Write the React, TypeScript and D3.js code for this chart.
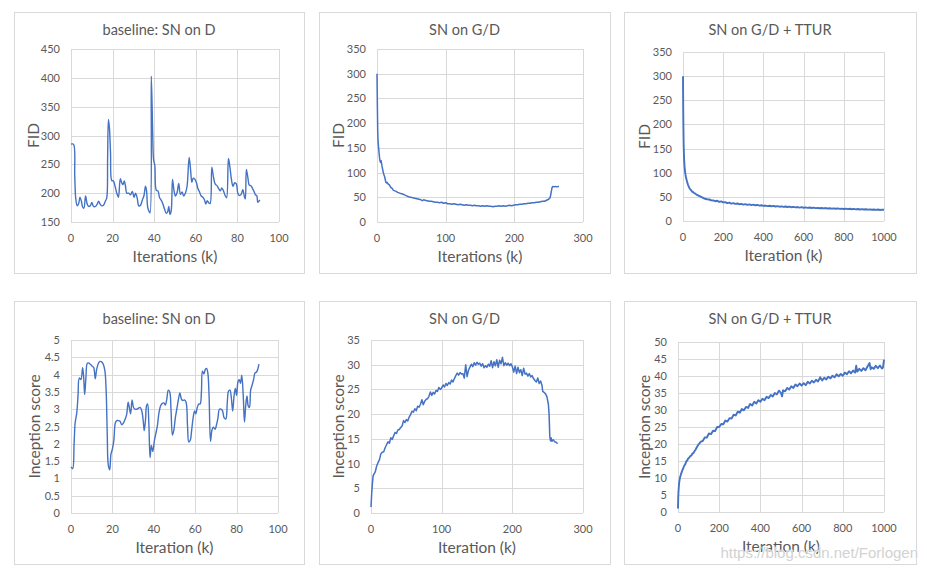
import React, { useRef, useEffect } from 'react';
import * as d3 from 'd3';

type Pt = [number, number];

// [iteration (k), value]
const baseFid: Pt[] = [
    [0, 285], [1.2, 285], [1.8, 230], [2.3, 190], [3, 178], [3.7, 182], [4.3, 193], [5, 186], [5.6, 176], [6.2, 174],
    [7, 195], [7.8, 181], [8.5, 177], [9.3, 178], [10, 184], [10.8, 177], [11.8, 177], [12.6, 181], [13.3, 186], [14, 181],
    [14.8, 178], [15.6, 179], [16.5, 186], [17.2, 192], [17.6, 260], [18, 328], [18.5, 312], [19, 270], [19.6, 222], [20.4, 221],
    [21.2, 212], [22, 200], [22.8, 193], [23.7, 225], [24.4, 218], [25, 215], [25.6, 221], [26.2, 212], [26.8, 200], [27.8, 200],
    [28.6, 197], [29.5, 203], [30.3, 193], [31, 200], [31.8, 192], [32.6, 178], [33.4, 179], [34.3, 188], [35.1, 196], [35.8, 212],
    [36.3, 205], [36.9, 175], [37.6, 168], [38, 166], [38.6, 403], [39.3, 300], [39.7, 258], [40.3, 248], [41, 205], [41.8, 204],
    [42.6, 192], [43.5, 187], [44.3, 180], [45, 172], [45.8, 165], [46.5, 168], [47, 177], [47.6, 163], [48.2, 170], [48.8, 224],
    [49.5, 205], [50.2, 195], [51, 201], [51.8, 217], [52.6, 198], [53.4, 202], [54.2, 195], [55, 200], [55.8, 212], [56.8, 262],
    [57.5, 240], [58.1, 219], [58.8, 226], [59.6, 224], [60.3, 218], [61, 208], [61.8, 202], [62.6, 195], [63.4, 193], [64.2, 188],
    [64.8, 181], [65.5, 187], [66.3, 183], [66.9, 182], [67.7, 245], [68.5, 228], [69.3, 216], [70.2, 213], [71, 208], [71.8, 204],
    [72.5, 209], [73.3, 204], [74.1, 196], [74.8, 192], [75.7, 260], [76.4, 245], [77.2, 222], [77.9, 212], [78.7, 218], [79.5, 216],
    [80.2, 200], [81, 196], [81.8, 198], [82.6, 206], [83.3, 195], [83.8, 190], [84.3, 241], [85, 228], [85.7, 214], [86.5, 213],
    [87.3, 208], [88, 203], [88.7, 197], [89.3, 196], [89.8, 184], [90.3, 186], [90.8, 188],
];

const gdFid: Pt[] = [
    [0, 300], [0.5, 240], [1, 185], [1.5, 165], [2, 155], [3, 140], [4, 126], [5, 121], [6, 124], [7, 115],
    [8, 108], [9, 101], [10, 96], [11, 92], [12, 86], [13, 80], [14, 79], [15, 80], [16, 77], [18, 75],
    [20, 70], [22, 68], [24, 64], [26, 63], [28, 62], [30, 60], [32, 59], [34, 58], [36, 57], [38, 56],
    [40, 55], [43, 53], [46, 51], [49, 50], [52, 49], [55, 48], [58, 47], [61, 46], [64, 45], [66, 43],
    [68, 45], [70, 44], [73, 43], [76, 42], [79, 42], [82, 41], [85, 40], [88, 40], [91, 39], [94, 40],
    [97, 38], [100, 39], [103, 37], [106, 37], [109, 36], [112, 37], [115, 36], [118, 35], [121, 36], [124, 35],
    [127, 34], [130, 35], [133, 34], [136, 34], [139, 33], [142, 34], [145, 33], [148, 33], [151, 32], [154, 33],
    [157, 32], [160, 33], [163, 32], [166, 32], [169, 31], [172, 32], [175, 32], [178, 33], [181, 32], [184, 33],
    [187, 32], [190, 33], [193, 34], [196, 33], [199, 34], [202, 35], [205, 35], [208, 36], [211, 36], [214, 37],
    [217, 37], [220, 38], [223, 38], [226, 39], [229, 39], [232, 40], [235, 40], [238, 41], [241, 42], [244, 42],
    [247, 44], [250, 46], [252, 49], [253, 55], [254, 63], [255, 70], [256, 72], [258, 71], [260, 72], [262, 71],
    [264, 72], [265, 72],
];

const tturFid: Pt[] = [
    [0, 300], [1, 235], [2, 195], [3, 165], [4, 146], [5, 133], [6, 124], [8, 112], [10, 103], [12, 97],
    [15, 90], [18, 85], [21, 80], [25, 75], [30, 70], [35, 66], [40, 64], [45, 61], [50, 60], [55, 58],
    [60, 57], [70, 54], [80, 52], [90, 50], [100, 48], [110, 46], [120, 45], [130, 44.5], [140, 43], [150, 42.5],
    [160, 41], [170, 42], [180, 39.5], [190, 40.5], [200, 38.5], [210, 39], [220, 37], [230, 38], [240, 36], [250, 37],
    [260, 35.5], [270, 36.2], [280, 34.8], [290, 35.5], [300, 34], [310, 35], [320, 33.5], [330, 34.3], [340, 33], [350, 33.8],
    [360, 32.5], [370, 33.2], [380, 31.8], [390, 32.6], [400, 31.3], [410, 32], [420, 30.8], [430, 31.6], [440, 30.5], [450, 31.2],
    [460, 30], [470, 30.8], [480, 29.6], [490, 30.4], [500, 29.3], [510, 30], [520, 29], [530, 29.7], [540, 28.5], [550, 29.3],
    [560, 28.2], [570, 28.9], [580, 27.8], [590, 28.6], [600, 27.5], [610, 28.2], [620, 27.2], [630, 27.9], [640, 26.9], [650, 27.6],
    [660, 26.6], [670, 27.3], [680, 26.4], [690, 27], [700, 26.1], [710, 26.8], [720, 25.8], [730, 26.5], [740, 25.6], [750, 26.2],
    [760, 25.3], [770, 26], [780, 25.1], [790, 25.7], [800, 24.9], [810, 25.5], [820, 24.6], [830, 25.3], [840, 24.4], [850, 25],
    [860, 24.1], [870, 24.8], [880, 23.9], [890, 24.5], [900, 23.7], [910, 24.3], [920, 23.5], [930, 24.1], [940, 23.3], [950, 23.9],
    [960, 23.1], [970, 23.7], [980, 22.9], [990, 23.5], [1000, 23.2],
];

const baseIs: Pt[] = [
    [0, 1.33], [0.8, 1.28], [1.5, 2.0], [2, 2.6], [2.8, 2.9], [3.4, 3.4], [4, 3.9], [4.8, 3.86], [5.6, 4.2], [6.1, 3.95],
    [6.6, 3.42], [7.2, 3.9], [7.9, 4.33], [8.7, 4.33], [9.5, 4.29], [10.3, 4.24], [11, 4.2], [11.7, 3.88], [12.4, 4.15], [13.2, 4.32],
    [14, 4.38], [14.8, 4.37], [15.6, 4.3], [16.4, 4.1], [17, 3.5], [17.5, 2.3], [18, 1.4], [18.7, 1.25], [19.3, 1.7], [20, 1.85],
    [20.7, 2.1], [21.4, 2.6], [22.1, 2.67], [22.9, 2.67], [23.7, 2.65], [24.5, 2.55], [25.3, 2.6], [26.1, 2.7], [26.9, 2.85], [27.6, 3.2],
    [28.3, 3.0], [28.8, 2.87], [29.5, 3.27], [30.2, 3.05], [31, 3.0], [31.8, 3.0], [32.6, 3.03], [33.4, 3.05], [34.2, 2.95], [35, 2.6],
    [35.4, 2.38], [36, 2.7], [36.5, 3.1], [37, 3.15], [37.6, 2.6], [38.2, 1.6], [38.8, 1.95], [39.5, 1.78], [40.3, 2.1], [41, 2.3],
    [41.8, 2.55], [42.5, 2.9], [43.3, 3.1], [44.1, 3.17], [44.9, 3.18], [45.6, 3.12], [46.3, 3.3], [47, 3.55], [47.7, 3.5], [48.3, 3.0],
    [49, 2.25], [49.7, 2.4], [50.4, 2.75], [51.1, 3.0], [51.8, 3.25], [52.6, 3.47], [53.3, 3.3], [54, 3.25], [54.8, 3.27], [55.6, 3.2],
    [56.3, 2.5], [56.9, 2.05], [57.6, 2.1], [58.3, 2.4], [59, 2.75], [59.7, 2.95], [60.3, 2.87], [61, 3.05], [61.7, 3.15], [62.4, 3.15],
    [63, 3.5], [63.5, 4.1], [64.2, 4.02], [64.9, 4.15], [65.5, 4.18], [66.1, 4.05], [66.7, 3.4], [67.4, 2.07], [68.1, 2.4], [68.8, 2.48],
    [69.6, 2.42], [70.3, 2.55], [71, 2.75], [71.7, 3.0], [72.5, 3.0], [73.2, 2.95], [74, 2.75], [74.8, 2.72], [75.5, 3.2], [76.1, 3.52],
    [76.8, 3.55], [77.5, 3.3], [78.1, 2.95], [78.8, 3.4], [79.4, 3.6], [80, 3.4], [80.7, 3.8], [81.3, 3.85], [81.9, 3.75], [82.5, 3.98],
    [83.2, 3.4], [83.8, 2.63], [84.4, 3.1], [85, 3.38], [85.6, 3.1], [86.2, 3.05], [86.8, 3.55], [87.5, 3.7], [88.2, 3.85], [88.9, 4.05],
    [89.6, 4.07], [90.2, 4.15], [90.8, 4.3],
];

const gdIs: Pt[] = [
    [0, 1.2], [1, 4], [2, 6], [3, 7.5], [4, 7.8], [6, 8.3], [8, 9.5], [10, 10.2], [12, 10.8], [14, 12],
    [16, 12.3], [18, 12.4], [20, 13.2], [22, 13.8], [24, 14.4], [26, 14.1], [28, 15.2], [30, 14.9], [32, 15.6], [34, 16.3],
    [36, 16.1], [38, 16.8], [40, 16.9], [42, 17.3], [44, 17.6], [46, 18.7], [48, 18.3], [50, 18.9], [52, 18.6], [54, 19.4],
    [56, 19.9], [58, 20.6], [60, 20.4], [62, 21.1], [64, 20.7], [66, 21.6], [68, 21.4], [70, 22], [72, 22.9], [74, 21.9],
    [76, 22.6], [78, 23], [80, 23.1], [82, 23.6], [84, 24.5], [86, 23.8], [88, 24.4], [90, 24.1], [92, 24.8], [94, 24.6],
    [96, 25.4], [98, 25], [100, 25.3], [102, 25.9], [104, 25.5], [106, 26.2], [108, 25.8], [110, 26.4], [112, 26.1], [114, 26.9],
    [116, 26.5], [118, 27.2], [120, 27.8], [122, 28.3], [124, 27.9], [126, 28.4], [128, 28.1], [130, 28.2], [132, 27.3], [134, 30],
    [136, 27.6], [138, 28.9], [140, 29.5], [142, 30.1], [144, 29.6], [146, 30.4], [148, 29.9], [150, 30.5], [152, 30.1], [154, 30.3],
    [156, 29.7], [158, 30.2], [160, 29.4], [162, 29.8], [164, 29.5], [166, 30.1], [168, 29.7], [170, 30.8], [172, 29.4], [174, 30.6],
    [176, 29.8], [178, 31], [180, 29.5], [182, 30.9], [184, 30.2], [186, 31.5], [188, 29.8], [190, 30.4], [192, 29.9], [194, 30.3],
    [196, 29.8], [198, 30.2], [200, 29.6], [202, 28.5], [204, 29.7], [206, 28.2], [208, 29.5], [210, 28.4], [212, 29], [214, 27.8],
    [216, 29.3], [218, 28.1], [220, 28.3], [222, 27.7], [224, 28.2], [226, 27.5], [228, 27.8], [230, 27.2], [232, 26.8], [234, 26.5],
    [236, 27.3], [238, 26.2], [240, 26.7], [242, 25.8], [243, 24.6], [245, 24.4], [247, 24.1], [249, 23.5], [251, 22], [252, 20],
    [253, 15.5], [254, 14.6], [255, 15.2], [256, 14.5], [258, 14.8], [260, 14.4], [262, 14.3], [264, 14],
];

const tturIs: Pt[] = [
    [0, 1], [1, 4], [2, 5.5], [4, 7.5], [6, 8.8], [8, 9.5], [10, 10.2], [15, 11.2], [20, 12.1], [25, 12.8],
    [30, 13.6], [35, 14], [40, 14.8], [45, 15.2], [50, 15.8], [55, 16], [60, 16.5], [65, 16.6], [70, 17.2], [75, 17.3],
    [80, 17.9], [85, 18.3], [90, 18.9], [95, 19.4], [100, 19.9], [110, 20.6], [120, 20.9], [130, 21.9], [140, 21.9], [150, 23.1],
    [160, 22.9], [170, 23.9], [180, 23.8], [190, 25], [200, 25], [210, 25.9], [220, 25.8], [230, 26.9], [240, 26.6], [250, 27.6],
    [260, 27.5], [270, 28.6], [280, 28.4], [290, 29.5], [300, 29.2], [310, 30.3], [320, 29.9], [330, 30.9], [340, 30.6], [350, 31.8],
    [360, 31.3], [370, 32.4], [380, 31.9], [390, 32.9], [400, 32.4], [410, 33.3], [420, 32.9], [430, 33.9], [440, 33.5], [450, 34.4],
    [460, 34], [470, 35], [480, 34.6], [490, 35.7], [500, 35], [505, 34], [510, 35.8], [520, 35.5], [530, 36.5], [540, 36],
    [550, 37], [560, 36.5], [570, 37.5], [580, 37], [590, 37.8], [600, 37.2], [610, 37.9], [620, 37.3], [630, 38.3], [640, 37.8],
    [650, 38.6], [660, 38.1], [670, 38.9], [680, 38.4], [690, 39.6], [700, 38.7], [710, 39.5], [720, 39], [730, 39.8], [740, 39.3],
    [750, 40.1], [760, 39.6], [770, 40.5], [780, 39.9], [790, 40.6], [800, 40.1], [810, 41], [820, 40.5], [830, 41.4], [840, 40.8],
    [850, 41.6], [860, 41], [865, 43], [870, 41.3], [880, 42.1], [890, 41.5], [900, 42.3], [910, 41.7], [920, 42.8], [930, 43.8],
    [935, 42], [940, 42.6], [950, 42.1], [960, 43], [970, 42.3], [980, 43.1], [990, 42.2], [995, 42.5], [1000, 44.8],
];

// ticks
const xTicks100 = [0, 20, 40, 60, 80, 100];
const xTicks300 = [0, 100, 200, 300];
const xTicks1000 = [0, 200, 400, 600, 800, 1000];
const yTicksBaseFid = [150, 200, 250, 300, 350, 400, 450];
const yTicksFid = [0, 50, 100, 150, 200, 250, 300, 350];
const yTicksBaseIs = [0, 0.5, 1, 1.5, 2, 2.5, 3, 3.5, 4, 4.5, 5];
const yTicksGdIs = [0, 5, 10, 15, 20, 25, 30, 35];
const yTicksTturIs = [0, 5, 10, 15, 20, 25, 30, 35, 40, 45, 50];

const titles = ['baseline: SN on D', 'SN on G/D', 'SN on G/D + TTUR', 'baseline: SN on D', 'SN on G/D', 'SN on G/D + TTUR'];
const xLabels = ['Iterations (k)', 'Iterations (k)', 'Iteration (k)', 'Iteration (k)', 'Iteration (k)', 'Iteration (k)'];
const yLabels = ['FID', 'FID', 'FID', 'Inception score', 'Inception score', 'Inception score'];

const series = [baseFid, gdFid, tturFid, baseIs, gdIs, tturIs];
const xTickSets = [xTicks100, xTicks300, xTicks1000, xTicks100, xTicks300, xTicks1000];
const yTickSets = [yTicksBaseFid, yTicksFid, yTicksFid, yTicksBaseIs, yTicksGdIs, yTicksTturIs];

// frame [x0,y0,x1,y1], plot area [x0,y0,x1,y1], y label x
const layout = [
    { frame: [14, 12, 304, 273], plot: [71, 49, 279, 222], yLabelX: 33 },
    { frame: [319, 12, 610, 273], plot: [377, 49, 583, 222], yLabelX: 338 },
    { frame: [624, 12, 916, 273], plot: [683, 52, 884, 221], yLabelX: 644 },
    { frame: [14, 301, 304, 564], plot: [71, 340, 278, 513], yLabelX: 34 },
    { frame: [319, 301, 610, 564], plot: [371, 340, 583, 513], yLabelX: 338 },
    { frame: [624, 301, 916, 564], plot: [678, 342, 884, 512], yLabelX: 644 },
];

const FONT = "Lato, 'Noto Sans', sans-serif";
const TEXT = '#595959';
const GRID = '#d9d9d9';
const LINE = '#4472c4';

const App: React.FC = () => {
    const ref = useRef<SVGSVGElement>(null);

    useEffect(() => {
        const svg = d3.select(ref.current);
        svg.selectAll('*').remove();

        layout.forEach((lay, i) => {
            const [fx0, fy0, fx1, fy1] = lay.frame;
            const [px0, py0, px1, py1] = lay.plot;
            const xt = xTickSets[i];
            const yt = yTickSets[i];

            const g = svg.append('g');

            g.append('rect')
                .attr('x', fx0 + 0.5).attr('y', fy0 + 0.5)
                .attr('width', fx1 - fx0).attr('height', fy1 - fy0)
                .attr('fill', '#fff')
                .attr('stroke', GRID);

            const x = d3.scaleLinear().domain([xt[0], xt[xt.length - 1]]).range([px0, px1]);
            const y = d3.scaleLinear().domain([yt[0], yt[yt.length - 1]]).range([py1, py0]);

            // griglia
            g.selectAll('.hg').data(yt).enter().append('line')
                .attr('x1', px0).attr('x2', px1)
                .attr('y1', d => Math.round(y(d)) + 0.5).attr('y2', d => Math.round(y(d)) + 0.5)
                .attr('stroke', GRID);
            g.selectAll('.vg').data(xt).enter().append('line')
                .attr('y1', py0).attr('y2', py1)
                .attr('x1', d => Math.round(x(d)) + 0.5).attr('x2', d => Math.round(x(d)) + 0.5)
                .attr('stroke', GRID);

            // etichette dei tick
            g.selectAll('.yl').data(yt).enter().append('text')
                .attr('x', px0 - 11).attr('y', d => y(d) + 4)
                .attr('text-anchor', 'end')
                .style('font-family', FONT).style('font-size', '11px').style('fill', TEXT)
                .text(d => String(d));
            g.selectAll('.xl').data(xt).enter().append('text')
                .attr('x', d => x(d)).attr('y', py1 + 19.5)
                .attr('text-anchor', 'middle')
                .style('font-family', FONT).style('font-size', '11px').style('fill', TEXT)
                .text(d => String(d));

            // titoli
            g.append('text')
                .attr('x', (fx0 + fx1) / 2).attr('y', fy0 + 22.5)
                .attr('text-anchor', 'middle')
                .style('font-family', FONT).style('font-size', '14.5px').style('fill', TEXT)
                .text(titles[i]);
            g.append('text')
                .attr('x', (px0 + px1) / 2).attr('y', py1 + 39.5)
                .attr('text-anchor', 'middle')
                .style('font-family', FONT).style('font-size', '15.5px').style('fill', TEXT)
                .text(xLabels[i]);
            g.append('text')
                .attr('transform', `translate(${lay.yLabelX + 5.5},${(py0 + py1) / 2}) rotate(-90)`)
                .attr('text-anchor', 'middle')
                .style('font-family', FONT).style('font-size', '15.5px').style('fill', TEXT)
                .text(yLabels[i]);

            // la curva
            const smooth = i === 0 || i === 3;
            const line = d3.line<Pt>()
                .x(d => x(d[0]))
                .y(d => y(d[1]))
                .curve(smooth ? d3.curveCatmullRom.alpha(0.5) : d3.curveLinear);

            g.append('path')
                .datum(series[i])
                .attr('d', line)
                .attr('fill', 'none')
                .attr('stroke', LINE)
                .attr('stroke-width', smooth ? 1.4 : (i === 2 || i === 5 ? 1.9 : 1.5))
                .attr('stroke-linejoin', 'round');
        });

        svg.append('text')
            .attr('x', 918).attr('y', 558)
            .attr('text-anchor', 'end')
            .style('font-family', "'Liberation Sans', Arial, sans-serif")
            .style('font-size', '15px')
            .style('fill', '#d2d2d2')
            .style('stroke', '#ffffff')
            .style('stroke-width', '0.6px')
            .style('paint-order', 'stroke')
            .text('https://blog.csdn.net/Forlogen');
    }, []);

    return (
        <svg
            ref={ref}
            width={927}
            height={575}
            style={{ position: 'absolute', left: 0, top: 0, background: '#fff' }}
        />
    );
};

export default App;
